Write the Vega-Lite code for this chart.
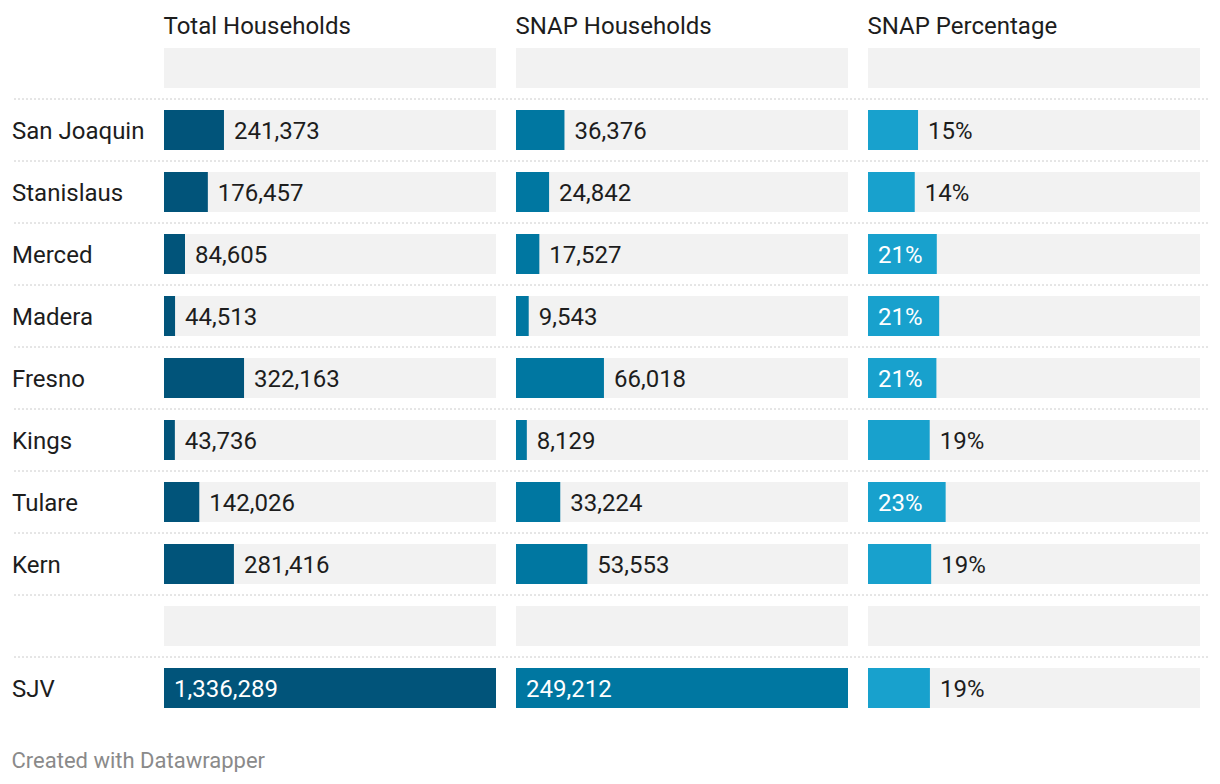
{
  "$schema": "https://vega.github.io/schema/vega-lite/v6.json",
  "background": "white",
  "padding": {"left": 11, "top": 15, "right": 0, "bottom": 0},
  "spacing": 0,
  "bounds": "flush",
  "config": {
    "font": "Roboto",
    "view": {"stroke": null},
    "concat": {"spacing": 0},
    "title": {"anchor": "start", "fontSize": 24, "fontWeight": "normal", "color": "#1d1d1d", "baseline": "alphabetic", "offset": -2}
  },
  "title": {"text": "Created with Datawrapper", "orient": "bottom", "anchor": "start", "fontSize": 22, "fontWeight": "normal", "color": "#8a8a8a", "baseline": "alphabetic", "offset": 49},
  "datasets": {
    "rows": [
      {"row": "_top"}, {"row": "San Joaquin"}, {"row": "Stanislaus"}, {"row": "Merced"}, {"row": "Madera"}, {"row": "Fresno"}, {"row": "Kings"}, {"row": "Tulare"}, {"row": "Kern"}, {"row": "_gap"}, {"row": "SJV"}
    ],
    "counties": [
      {"row": "San Joaquin", "total": 241373, "snap": 36376, "pct": 0.1507},
      {"row": "Stanislaus", "total": 176457, "snap": 24842, "pct": 0.1408},
      {"row": "Merced", "total": 84605, "snap": 17527, "pct": 0.2072},
      {"row": "Madera", "total": 44513, "snap": 9543, "pct": 0.2144},
      {"row": "Fresno", "total": 322163, "snap": 66018, "pct": 0.206},
      {"row": "Kings", "total": 43736, "snap": 8129, "pct": 0.1859},
      {"row": "Tulare", "total": 142026, "snap": 33224, "pct": 0.2339},
      {"row": "Kern", "total": 281416, "snap": 53553, "pct": 0.1903},
      {"row": "SJV", "total": 1336289, "snap": 249212, "pct": 0.1865}
    ]
  },
  "hconcat": [
    {
      "width": 152, "height": 682,
      "title": {"text": " "},
      "encoding": {
        "y": {"field": "row", "type": "nominal", "axis": null,
          "scale": {"domain": ["_top", "San Joaquin", "Stanislaus", "Merced", "Madera", "Fresno", "Kings", "Tulare", "Kern", "_gap", "SJV"], "paddingInner": 0, "paddingOuter": 0}}
      },
      "layer": [
        {
          "data": {"name": "rows"},
          "transform": [{"filter": "datum.row !== '_top'"}],
          "mark": {"type": "rule", "color": "#cccccc", "strokeWidth": 1, "strokeDash": [2, 2]},
          "encoding": {"y": {"field": "row", "type": "nominal", "bandPosition": 0}}
        },
        {
          "data": {"name": "counties"},
          "mark": {"type": "text", "align": "left", "baseline": "middle", "dy": 1.5, "fontSize": 24, "color": "#1d1d1d"},
          "encoding": {
            "x": {"datum": 0, "type": "quantitative", "scale": {"domain": [0, 1], "nice": false}, "axis": null},
            "text": {"field": "row"}
          }
        }
      ]
    },
    {
      "width": 352, "height": 682,
      "title": {"text": "Total Households"},
      "encoding": {
        "y": {"field": "row", "type": "nominal", "axis": null,
          "scale": {"domain": ["_top", "San Joaquin", "Stanislaus", "Merced", "Madera", "Fresno", "Kings", "Tulare", "Kern", "_gap", "SJV"], "paddingInner": 0, "paddingOuter": 0}}
      },
      "layer": [
        {
          "data": {"name": "rows"},
          "mark": {"type": "bar", "height": 40, "color": "#f2f2f2"},
          "encoding": {"x": {"datum": 1336289, "type": "quantitative", "scale": {"domain": [0, 1336289], "range": [0, 332], "nice": false, "zero": true}, "axis": null}}
        },
        {
          "data": {"name": "rows"},
          "transform": [{"filter": "datum.row !== '_top'"}],
          "mark": {"type": "rule", "color": "#cccccc", "strokeWidth": 1, "strokeDash": [2, 2]},
          "encoding": {"y": {"field": "row", "type": "nominal", "bandPosition": 0}}
        },
        {
          "data": {"name": "counties"},
          "mark": {"type": "bar", "height": 40, "color": "#01547a"},
          "encoding": {"x": {"field": "total", "type": "quantitative"}}
        },
        {
          "data": {"name": "counties"},
          "transform": [{"filter": "datum.total < 1000000"}],
          "mark": {"type": "text", "align": "left", "baseline": "middle", "dx": 10, "dy": 1.5, "fontSize": 24, "color": "#1d1d1d"},
          "encoding": {"x": {"field": "total", "type": "quantitative"}, "text": {"field": "total", "type": "quantitative", "format": ","}}
        },
        {
          "data": {"name": "counties"},
          "transform": [{"filter": "datum.total >= 1000000"}],
          "mark": {"type": "text", "align": "left", "baseline": "middle", "dx": 10, "dy": 1.5, "fontSize": 24, "color": "#ffffff"},
          "encoding": {"x": {"datum": 0, "type": "quantitative"}, "text": {"field": "total", "type": "quantitative", "format": ","}}
        }
      ]
    },
    {
      "width": 352, "height": 682,
      "title": {"text": "SNAP Households"},
      "encoding": {
        "y": {"field": "row", "type": "nominal", "axis": null,
          "scale": {"domain": ["_top", "San Joaquin", "Stanislaus", "Merced", "Madera", "Fresno", "Kings", "Tulare", "Kern", "_gap", "SJV"], "paddingInner": 0, "paddingOuter": 0}}
      },
      "layer": [
        {
          "data": {"name": "rows"},
          "mark": {"type": "bar", "height": 40, "color": "#f2f2f2"},
          "encoding": {"x": {"datum": 249212, "type": "quantitative", "scale": {"domain": [0, 249212], "range": [0, 332], "nice": false, "zero": true}, "axis": null}}
        },
        {
          "data": {"name": "rows"},
          "transform": [{"filter": "datum.row !== '_top'"}],
          "mark": {"type": "rule", "color": "#cccccc", "strokeWidth": 1, "strokeDash": [2, 2]},
          "encoding": {"y": {"field": "row", "type": "nominal", "bandPosition": 0}}
        },
        {
          "data": {"name": "counties"},
          "mark": {"type": "bar", "height": 40, "color": "#0077a1"},
          "encoding": {"x": {"field": "snap", "type": "quantitative"}}
        },
        {
          "data": {"name": "counties"},
          "transform": [{"filter": "datum.snap < 200000"}],
          "mark": {"type": "text", "align": "left", "baseline": "middle", "dx": 10, "dy": 1.5, "fontSize": 24, "color": "#1d1d1d"},
          "encoding": {"x": {"field": "snap", "type": "quantitative"}, "text": {"field": "snap", "type": "quantitative", "format": ","}}
        },
        {
          "data": {"name": "counties"},
          "transform": [{"filter": "datum.snap >= 200000"}],
          "mark": {"type": "text", "align": "left", "baseline": "middle", "dx": 10, "dy": 1.5, "fontSize": 24, "color": "#ffffff"},
          "encoding": {"x": {"datum": 0, "type": "quantitative"}, "text": {"field": "snap", "type": "quantitative", "format": ","}}
        }
      ]
    },
    {
      "width": 340, "height": 682,
      "title": {"text": "SNAP Percentage"},
      "encoding": {
        "y": {"field": "row", "type": "nominal", "axis": null,
          "scale": {"domain": ["_top", "San Joaquin", "Stanislaus", "Merced", "Madera", "Fresno", "Kings", "Tulare", "Kern", "_gap", "SJV"], "paddingInner": 0, "paddingOuter": 0}}
      },
      "layer": [
        {
          "data": {"name": "rows"},
          "mark": {"type": "bar", "height": 40, "color": "#f2f2f2"},
          "encoding": {"x": {"datum": 1, "type": "quantitative", "scale": {"domain": [0, 1], "range": [0, 332], "nice": false, "zero": true}, "axis": null}}
        },
        {
          "data": {"name": "rows"},
          "transform": [{"filter": "datum.row !== '_top'"}],
          "mark": {"type": "rule", "color": "#cccccc", "strokeWidth": 1, "strokeDash": [2, 2]},
          "encoding": {"y": {"field": "row", "type": "nominal", "bandPosition": 0}}
        },
        {
          "data": {"name": "counties"},
          "mark": {"type": "bar", "height": 40, "color": "#18a1cd"},
          "encoding": {"x": {"field": "pct", "type": "quantitative"}}
        },
        {
          "data": {"name": "counties"},
          "transform": [{"filter": "datum.pct < 0.2"}],
          "mark": {"type": "text", "align": "left", "baseline": "middle", "dx": 10, "dy": 1.5, "fontSize": 24, "color": "#1d1d1d"},
          "encoding": {"x": {"field": "pct", "type": "quantitative"}, "text": {"field": "pct", "type": "quantitative", "format": ".0%"}}
        },
        {
          "data": {"name": "counties"},
          "transform": [{"filter": "datum.pct >= 0.2"}],
          "mark": {"type": "text", "align": "left", "baseline": "middle", "dx": 10, "dy": 1.5, "fontSize": 24, "color": "#ffffff"},
          "encoding": {"x": {"datum": 0, "type": "quantitative"}, "text": {"field": "pct", "type": "quantitative", "format": ".0%"}}
        }
      ]
    }
  ]
}
